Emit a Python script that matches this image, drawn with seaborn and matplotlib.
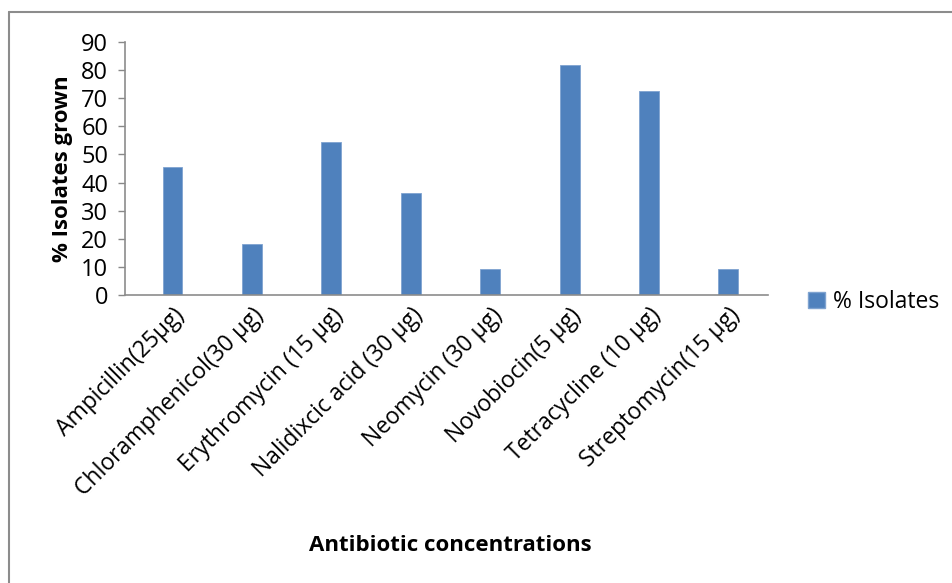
import matplotlib
matplotlib.use("Agg")
import matplotlib.pyplot as plt
import seaborn as sns
import pandas as pd
from matplotlib.patches import Patch
from matplotlib.lines import Line2D

categories = ["Ampicillin(25µg)", "Chloramphenicol(30 µg)", "Erythromycin (15 µg)",
              "Nalidixcic acid (30 µg)", "Neomycin (30 µg)", "Novobiocin(5 µg)",
              "Tetracycline (10 µg)", "Streptomycin(15 µg)"]
values = [45.45, 18.18, 54.55, 36.36, 9.09, 81.82, 72.73, 9.09]
yticks = [0, 10, 20, 30, 40, 50, 60, 70, 80, 90]

sns.set_theme(style="white")
plt.rcParams['font.family'] = ['Open Sans', 'DejaVu Sans']
plt.rcParams['text.color'] = 'black'
plt.rcParams['axes.labelcolor'] = 'black'
plt.rcParams['xtick.color'] = 'black'
plt.rcParams['ytick.color'] = 'black'

df = pd.DataFrame({"cat": categories, "val": values})
fig = plt.figure(figsize=(9.53, 5.83), dpi=100)
ax = fig.add_axes([0.131, 0.494, 0.675, 0.434])
color = "#4F81BD"
sns.barplot(data=df, x="cat", y="val", color=color, width=0.25, ax=ax,
            saturation=1, edgecolor="#7FA3D0", linewidth=0.6)
ax.set_xlim(-0.6, 7.5)
ax.set_ylim(0, 90)
ax.set_yticks(yticks)
ax.set_yticklabels([str(t) for t in yticks], fontsize=17)
ax.set_xticks(range(len(categories)))
ax.set_xticklabels(categories, rotation=45, ha="right", rotation_mode="anchor", fontsize=16.5)
ax.tick_params(axis="y", length=5, color="#888888", width=1, pad=7, left=True, direction="out")
ax.tick_params(axis="x", length=0, pad=6)
ax.yaxis.set_tick_params(labelcolor="black")
for lab in ax.get_yticklabels():
    lab.set_color("black")
ax.tick_params(axis="y", colors="#888888", labelcolor="black")
for s in ["top", "right"]:
    ax.spines[s].set_visible(False)
for s in ["left", "bottom"]:
    ax.spines[s].set_color("#8c8c8c")
    ax.spines[s].set_linewidth(1.2)
ax.set_ylabel("% Isolates grown", fontsize=16, fontweight="bold", labelpad=6)
ax.set_xlabel("")
fig.text(0.472, 0.065, "Antibiotic concentrations", fontsize=16, fontweight="bold", ha="center", va="center")

handle = Patch(facecolor=color, edgecolor="#7FA3D0")
leg = fig.legend([handle], ["% Isolates"], loc="center left", bbox_to_anchor=(0.826, 0.482),
                 frameon=False, fontsize=16.5, handlelength=0.75, handleheight=0.75, handletextpad=0.35)

# outer frame (left and top edges visible)
fig.add_artist(Line2D([0.009, 0.009], [0.0, 0.979], color="#8c8c8c", lw=1.5, transform=fig.transFigure))
fig.add_artist(Line2D([0.009, 1.0], [0.979, 0.979], color="#8c8c8c", lw=1.5, transform=fig.transFigure))

fig.savefig("out.png", dpi=100)
